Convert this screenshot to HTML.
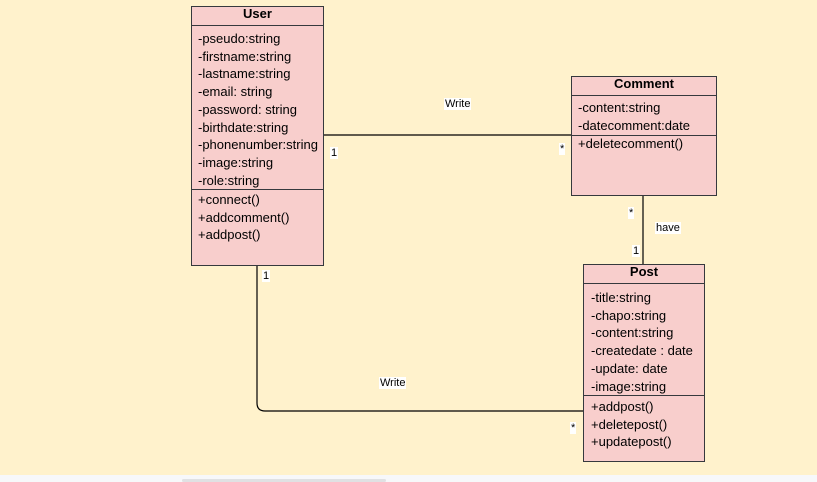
<!DOCTYPE html>
<html><head><style>
body{margin:0;width:817px;height:482px;overflow:hidden;background:#fff2cc;position:relative;font-family:"Liberation Sans",Arial,sans-serif;font-size:13px;color:#000}
.b{position:absolute;background:#f8cecc;border:1px solid #36393d;box-sizing:border-box}
.t{position:absolute;white-space:nowrap;line-height:14px}
.h{position:absolute;left:0;right:0;text-align:center;font-weight:bold;font-size:13px;line-height:14px}
.s{position:absolute;left:0;right:0;height:0;border-top:1px solid #36393d}
.l{position:absolute;background:#fff;line-height:12px;font-size:11px;padding:0 1px}
</style></head><body>
<div style="position:absolute;left:0;top:475px;width:817px;height:7px;background:#f7f8fa"></div>
<div style="position:absolute;left:182px;top:479px;width:204px;height:3px;background:#e0e1e3;border-radius:2px"></div>
<svg style="position:absolute;left:0;top:0" width="817" height="482">
<g stroke="#000" stroke-width="1.2" fill="none">
<line x1="323" y1="135" x2="571" y2="135"/>
<line x1="643" y1="195" x2="643" y2="265"/>
<path d="M257 265 V403 Q257 411 265 411 H583"/>
</g></svg>
<div class="b" style="left:191px;top:6px;width:133px;height:260px">
<div class="h" style="top:0px">User</div>
<div class="s" style="top:18px"></div>
<div class="t" style="left:6px;top:23px;line-height:17.7px">-pseudo:string<br>-firstname:string<br>-lastname:string<br>-email: string<br>-password: string<br>-birthdate:string<br>-phonenumber:string<br>-image:string<br>-role:string</div>
<div class="s" style="top:182px"></div>
<div class="t" style="left:6px;top:184px;line-height:17.7px">+connect()<br>+addcomment()<br>+addpost()</div>
</div>
<div class="b" style="left:571px;top:76px;width:146px;height:120px">
<div class="h" style="top:0px">Comment</div>
<div class="s" style="top:18px"></div>
<div class="t" style="left:6px;top:22px;line-height:17.7px">-content:string<br>-datecomment:date</div>
<div class="s" style="top:58px"></div>
<div class="t" style="left:6px;top:60px">+deletecomment()</div>
</div>
<div class="b" style="left:583px;top:264px;width:122px;height:198px">
<div class="h" style="top:0px">Post</div>
<div class="s" style="top:18px"></div>
<div class="t" style="left:7px;top:24px;line-height:17.7px">-title:string<br>-chapo:string<br>-content:string<br>-createdate : date<br>-update: date<br>-image:string</div>
<div class="s" style="top:130px"></div>
<div class="t" style="left:7px;top:133px;line-height:17.7px">+addpost()<br>+deletepost()<br>+updatepost()</div>
</div>
<div class="l" style="left:444px;top:98px">Write</div>
<div class="l" style="left:330px;top:147px">1</div>
<div class="l" style="left:559px;top:143px">*</div>
<div class="l" style="left:628px;top:207px">*</div>
<div class="l" style="left:655px;top:222px">have</div>
<div class="l" style="left:632px;top:245px">1</div>
<div class="l" style="left:262px;top:270px">1</div>
<div class="l" style="left:379px;top:377px">Write</div>
<div class="l" style="left:570px;top:422px">*</div>
</body></html>
